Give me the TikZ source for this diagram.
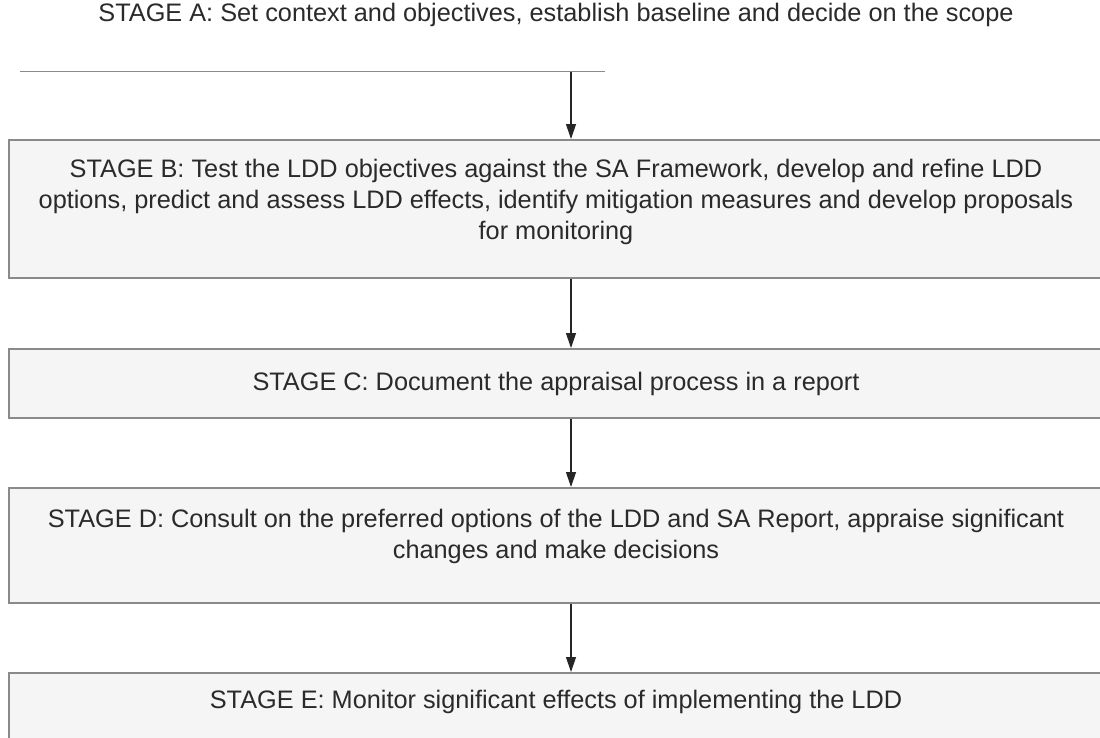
\documentclass[tikz,border=0pt]{standalone}
\usepackage{fontspec}
\setmainfont{Liberation Sans}
\usetikzlibrary{arrows.meta}
\definecolor{txt}{HTML}{2A2A2A}
\definecolor{edge}{HTML}{8A8A8A}
\definecolor{boxfill}{HTML}{F5F5F5}
\tikzset{
  stagebox/.style={draw=edge, line width=1.6pt, fill=boxfill, anchor=north west,
    minimum width=1110pt, inner sep=0pt},
  stagetext/.style={align=center, inner sep=0pt, text=txt,
    font=\fontsize{25.3}{31}\selectfont},
  flow/.style={draw=black!85, line width=1.2pt, -{Triangle[width=10pt,length=15pt]}},
  edgeline/.style={draw=edge, line width=1.6pt}
}
\begin{document}
\begin{tikzpicture}[x=1pt,y=-1pt]
\useasboundingbox[fill=white] (0,0) rectangle (1100,737);
% Stage A (only its lower edge is visible)
\node[stagebox, draw=none, fill=white, minimum height=110pt] (A) at (8,-40) {};
\node[stagetext] (At) at (556,15) {STAGE A: Set context and objectives, establish baseline and decide on the scope};
\path (A.south west) ++(12,0) coordinate (Aleft);
\draw[edgeline] (Aleft) -- ++(585,0);
\node[stagebox, minimum height=138pt] (B) at (8,139) {};
\node[stagetext] (Bt) at (556,202) {STAGE B: Test the LDD objectives against the SA Framework, develop and refine LDD\\options, predict and assess LDD effects, identify mitigation measures and develop proposals\\for monitoring};
\node[stagebox, minimum height=69pt] (C) at (8,348) {};
\node[stagetext] (Ct) at (556,384) {STAGE C: Document the appraisal process in a report};
\node[stagebox, minimum height=115pt] (D) at (8,487) {};
\node[stagetext] (Dt) at (556,536) {STAGE D: Consult on the preferred options of the LDD and SA Report, appraise significant\\changes and make decisions};
\node[stagebox, minimum height=90pt] (E) at (8,672) {};
\node[stagetext] (Et) at (556,702) {STAGE E: Monitor significant effects of implementing the LDD};
\coordinate (ax) at (571,0);
\draw[flow] (ax |- A.south) -- (ax |- B.north);
\draw[flow] (ax |- B.south) -- (ax |- C.north);
\draw[flow] (ax |- C.south) -- (ax |- D.north);
\draw[flow] (ax |- D.south) -- (ax |- E.north);
\end{tikzpicture}
\end{document}
